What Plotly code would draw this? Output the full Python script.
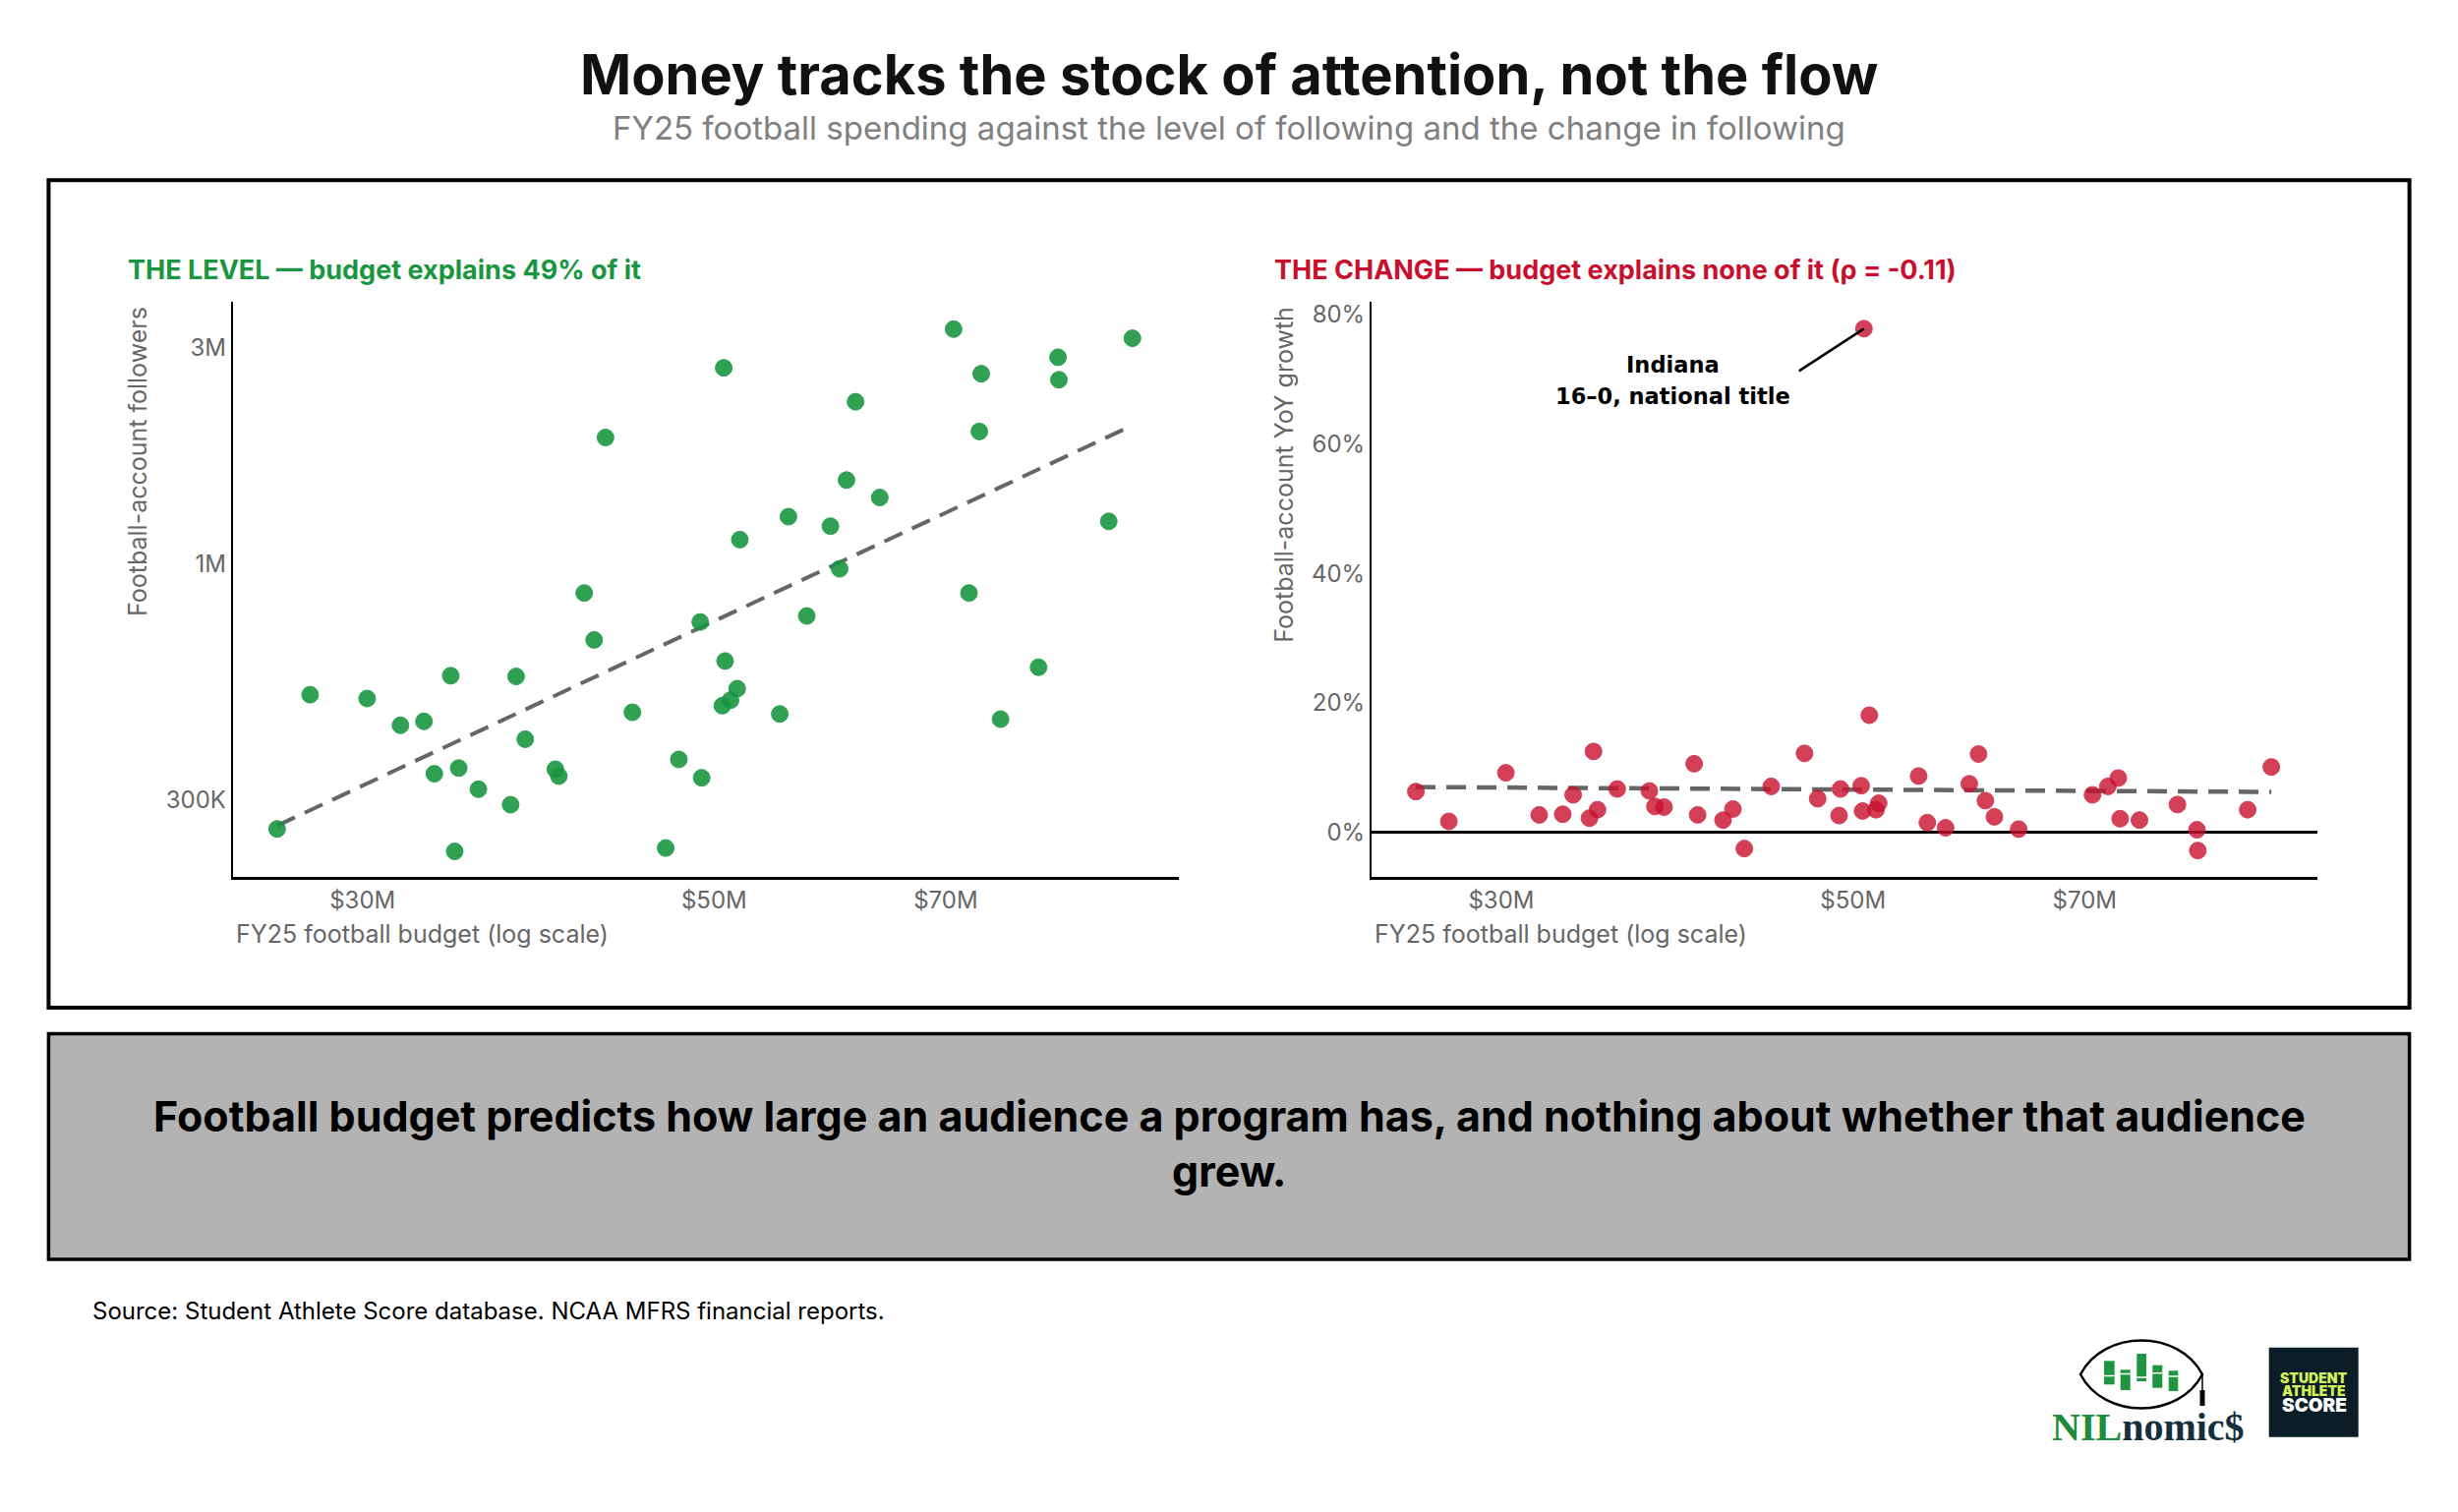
import numpy as np
import plotly.graph_objects as go

# ------------------------------------------------------------------
# data (one entry per program, sorted by budget)
budget_m = [26.5, 27.8, 30.2, 31.7, 32.8, 33.3, 34.1, 34.3, 34.5, 35.5,
            37.2, 37.5, 38.0, 39.7, 39.9, 41.4, 42.0, 42.7, 44.4, 46.6,
            47.5, 49.0, 49.1, 50.6, 50.7, 50.8, 51.2, 51.7, 51.9, 55.0,
            55.7, 57.2, 59.2, 60.0, 60.6, 61.4, 63.6, 70.8, 72.4, 73.5,
            73.7, 75.8, 80.1, 82.4, 82.5, 88.7, 91.8]
followers_k = [259, 513, 503, 439, 448, 343, 565, 231, 353, 317,
               293, 563, 409, 351, 339, 861, 678, 1900, 469, 235,
               369, 743, 336, 485, 2710, 609, 499, 529, 1130, 465,
               1270, 766, 1210, 974, 1530, 2280, 1400, 3300, 861, 1960,
               2630, 453, 590, 2860, 2550, 1240, 3150]
yoy_growth = [6.3, 1.7, 9.2, 2.7, 2.8, 5.8, 2.2, 12.5, 3.5, 6.7,
              6.4, 4.0, 3.9, 10.6, 2.7, 1.9, 3.6, -2.5, 7.1, 12.2,
              5.2, 2.6, 6.7, 7.2, 3.3, 77.8, 18.1, 3.5, 4.5, 8.7,
              1.5, 0.7, 7.5, 12.1, 4.9, 2.4, 0.5, 5.8, 7.1, 8.4,
              2.1, 1.9, 4.3, 0.4, -2.8, 3.5, 10.1]
highlight_idx = 25
highlight_name = "Indiana"
highlight_note = "16\u20130, national title"

x_ticks = [30, 50, 70]
x_ticktext = ["$30M", "$50M", "$70M"]
lvl_ticks = [300, 1000, 3000]
lvl_ticktext = ["300K", "1M", "3M"]
chg_ticks = [0, 20, 40, 60, 80]
chg_ticktext = ["0%", "20%", "40%", "60%", "80%"]

# ------------------------------------------------------------------
# page is 2500x1538, body keeps its 8px margin -> figure is 16px smaller
PAD = 8
W, H = 2500 - 2 * PAD, 1538 - 2 * PAD
GREEN = "#1a9641"
RED = "#c8102e"
GREY = "#666666"
FONT = "Inter"


def px(x):
    # window pixel -> paper fraction
    return (x - PAD) / W


def py(y):
    return 1 - (y - PAD) / H


bx = np.array(budget_m)
lx = np.log10(bx)

# trend lines (least squares, as in the reference)
lvl_fit = np.polyfit(lx, np.log10(followers_k), 1)
chg_fit = np.polyfit(lx, yoy_growth, 1)
line_x = np.array([bx.min(), bx.max()])
line_lx = np.log10(line_x)

fig = go.Figure()

fig.add_scatter(x=line_x, y=10 ** np.polyval(lvl_fit, line_lx),
                mode="lines", line=dict(color=GREY, width=4, dash="20px,11px"),
                xaxis="x", yaxis="y", showlegend=False, hoverinfo="skip")
fig.add_scatter(x=budget_m, y=followers_k, mode="markers",
                marker=dict(size=17, color=GREEN, opacity=0.9,
                            line=dict(color=GREEN, width=1)),
                xaxis="x", yaxis="y", showlegend=False)

fig.add_scatter(x=line_x, y=np.polyval(chg_fit, line_lx),
                mode="lines", line=dict(color=GREY, width=4.5, dash="20px,11px"),
                xaxis="x2", yaxis="y2", showlegend=False, hoverinfo="skip")
fig.add_scatter(x=budget_m, y=yoy_growth, mode="markers",
                marker=dict(size=17, color=RED, opacity=0.8,
                            line=dict(color=RED, width=1)),
                xaxis="x2", yaxis="y2", showlegend=False)

tickfont = dict(family=FONT, size=24, color=GREY)
xrange = [1.3953, 1.9919]
ydom = [py(892), py(306.7)]

common_x = dict(type="log", range=xrange, tickvals=x_ticks, ticktext=x_ticktext,
                showline=True, linecolor="black", linewidth=3, showgrid=False,
                zeroline=False, ticks="", tickfont=tickfont)
fig.update_layout(
    xaxis=dict(common_x, domain=[px(236.8), px(1198.6)], anchor="y"),
    xaxis2=dict(common_x, domain=[px(1395), px(2357)], anchor="y2"),
    yaxis=dict(type="log", domain=ydom, range=[2.3072, 3.5796],
               tickvals=lvl_ticks, ticktext=lvl_ticktext, showline=True,
               linecolor="black", linewidth=2, showgrid=False, zeroline=False,
               ticks="", tickfont=tickfont, anchor="x"),
    yaxis2=dict(domain=ydom, range=[-6.88, 82.0], tickvals=chg_ticks,
                ticktext=chg_ticktext, showline=True, linecolor="black",
                linewidth=2, showgrid=False, zeroline=True,
                zerolinecolor="black", zerolinewidth=2.5, ticks="",
                tickfont=tickfont, anchor="x2"),
)

ann = []


def text(x, y, s, size, color="black", weight="normal", xanchor="center",
         family=FONT, **kw):
    ann.append(dict(x=x, y=y, xref="paper", yref="paper", text=s,
                    showarrow=False, xanchor=xanchor, yanchor=kw.pop("yanchor", "middle"),
                    font=dict(family=family, size=size, color=color, weight=weight),
                    **kw))


text(px(1250), py(76), "Money tracks the stock of attention, not the flow", 56, "#111111", "bold")
text(px(1250), py(130), "FY25 football spending against the level of following and the change in following",
     33, "#808080")

r2 = int(round(100 * np.corrcoef(lx, np.log10(followers_k))[0, 1] ** 2))
text(px(127.6), py(274.5), f"THE LEVEL \u2014 budget explains {r2}% of it", 27, GREEN,
     "bold", xanchor="left")
text(px(1293.9), py(274.5), "THE CHANGE \u2014 budget explains none of it (\u03c1 = -0.11)",
     27, RED, "bold", xanchor="left")

text(px(237.6), py(950), "FY25 football budget (log scale)", 25, GREY, xanchor="left")
text(px(1396), py(950), "FY25 football budget (log scale)", 25, GREY, xanchor="left")
text(px(139.5), py(310), "Football-account followers", 25, GREY, yanchor="top", textangle=-90)
text(px(1305.8), py(310), "Football-account YoY growth", 25, GREY, yanchor="top", textangle=-90)

# Indiana call-out
hx = np.log10(budget_m[highlight_idx])
hy = yoy_growth[highlight_idx]
ann.append(dict(x=hx, y=hy, xref="x2", yref="y2", text=" ", showarrow=True,
                ax=-69, ay=45, arrowhead=0, arrowwidth=2.5, arrowcolor="black",
                standoff=0))
for s, dy in [(highlight_name, -37), (highlight_note, -69)]:
    ann.append(dict(x=hx, y=hy, xref="x2", yref="y2", text=s, showarrow=False,
                    xshift=-194, yshift=dy,
                    font=dict(family="DejaVu Sans", size=22.5, color="black", weight="bold")))

# takeaway box + source
text(px(1250), py(1135), "Football budget predicts how large an audience a program has, and nothing about whether that audience",
     43, "black", "bold")
text(px(1250), py(1191), "grew.", 43, "black", "bold")
text(px(91.7), py(1333), "Source: Student Athlete Score database. NCAA MFRS financial reports.",
     24, "black", xanchor="left")

# logos
text(px(2185), py(1451),
     "<span style='color:#1e8c3a'>NIL</span><span style='color:#14303d'>nomic$</span>",
     40, "#14303d", "bold", family="Liberation Serif")
text(px(2353.7), py(1401), "STUDENT", 14, "#d6f25a", 900)
text(px(2353.7), py(1414.5), "ATHLETE", 14, "#d6f25a", 900)
text(px(2353.7), py(1429.5), "SCORE", 19, "white", 900)

shapes = [
    dict(type="rect", xref="paper", yref="paper", x0=px(49.4), x1=px(2450.6),
         y0=py(183.3), y1=py(1025), line=dict(color="black", width=4)),
    dict(type="rect", xref="paper", yref="paper", x0=px(49.4), x1=px(2450.6),
         y0=py(1051.5), y1=py(1281), fillcolor="#b3b3b3",
         line=dict(color="black", width=3.5), layer="below"),
    dict(type="rect", xref="paper", yref="paper", x0=px(2307.7), x1=px(2398.7),
         y0=py(1370.7), y1=py(1461.7), fillcolor="#0b1d26", line=dict(width=0),
         layer="below"),
]


def ppath(pts):
    out = []
    for cmd, coords in pts:
        c = " ".join(f"{px(a):.5f},{py(b):.5f}" for a, b in coords)
        out.append(f"{cmd}{c}")
    return " ".join(out) + " Z"


ball = ppath([("M", [(2116, 1398)]),
              ("C", [(2140, 1352), (2216, 1352), (2240, 1398)]),
              ("C", [(2216, 1444), (2140, 1444), (2116, 1398)])])
shapes.append(dict(type="path", xref="paper", yref="paper", path=ball,
                   line=dict(color="black", width=2.5)))
shapes.append(dict(type="line", xref="paper", yref="paper", x0=px(2240), x1=px(2240),
                   y0=py(1398), y1=py(1418), line=dict(color="black", width=1.5)))
shapes.append(dict(type="rect", xref="paper", yref="paper", x0=px(2237.5), x1=px(2242.5),
                   y0=py(1414), y1=py(1430), fillcolor="black", line=dict(width=0)))
logo_bars = [(2140, 2150.7, 1384.3, 1408.3, 1399.5),
             (2156.7, 2166.7, 1393.3, 1414, 1397.5),
             (2173.3, 2183, 1377, 1405, 1401),
             (2189.3, 2199.3, 1388.7, 1411.7, 1396.7),
             (2205.7, 2215.3, 1394.3, 1415, 1400)]
for x0, x1, y0, y1, ys in logo_bars:
    shapes.append(dict(type="rect", xref="paper", yref="paper", x0=px(x0), x1=px(x1),
                       y0=py(y1), y1=py(y0), fillcolor="#1e9640", line=dict(width=0)))
    shapes.append(dict(type="line", xref="paper", yref="paper", x0=px(x0), x1=px(x1),
                       y0=py(ys), y1=py(ys), line=dict(color="white", width=1.5)))

fig.update_layout(
    width=W, height=H,
    margin=dict(l=0, r=0, t=0, b=0),
    paper_bgcolor="white", plot_bgcolor="white",
    font=dict(family=FONT, color=GREY),
    annotations=ann, shapes=shapes,
    showlegend=False,
)

fig.write_html("out.html")
